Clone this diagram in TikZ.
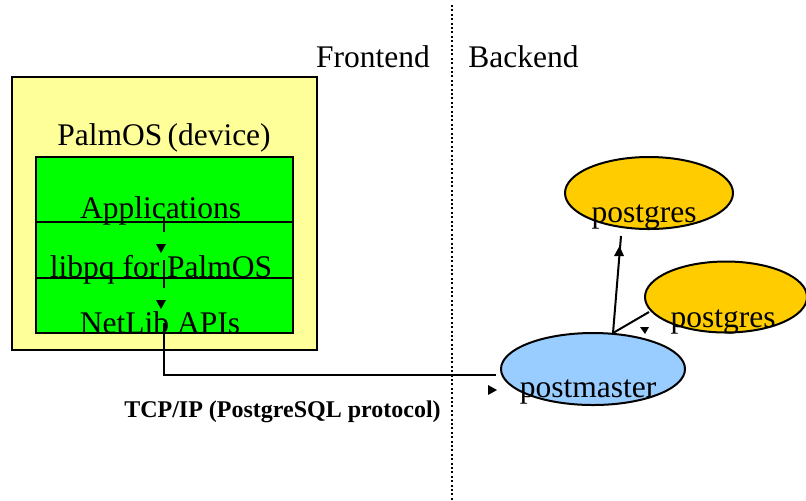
\documentclass[tikz,border=0pt]{standalone}
\usepackage{fontspec}
\setmainfont{Liberation Serif}
\usetikzlibrary{shapes.geometric}
\definecolor{paleyellow}{HTML}{FFFF99}
\definecolor{brightgreen}{HTML}{00FF00}
\definecolor{gold}{HTML}{FFCC00}
\definecolor{skyblue}{HTML}{99CCFF}
\begin{document}
\begin{tikzpicture}[x=0.5pt,y=-0.5pt,
  lbl/.style={anchor=base,inner sep=0pt,font=\fontsize{15.75}{18}\selectfont},
  boxed/.style={draw=black,line width=1pt},
  conn/.style={draw=black,line width=1pt},
  tip/.style={fill=black,draw=none},
  oval/.style={ellipse,draw=black,line width=1pt,inner sep=0pt}]
\useasboundingbox (0,0) rectangle (806,500);
% divider
\draw[line width=1pt,dash pattern=on 1pt off 1.2pt] (452,5) -- (452,500);
\node[lbl] (fe) at (373,67) {Frontend};
\node[lbl] (be) at (523.5,67) {Backend};
% device box
\path[boxed,fill=paleyellow] (12,77) rectangle (317,350);
\node[lbl] (palm) at (164,145) {PalmOS\,(device)};
\path[boxed,fill=brightgreen] (36,157) rectangle (293,333);
\draw[line width=1pt] (36,222) -- (293,222);
\draw[line width=1pt] (36,278) -- (293,278);
\node[lbl] (app) at (160.5,218) {Applications};
\node[lbl] (lib) at (161,277) {libpq for PalmOS};
\node[lbl] (net) at (160,333) {NetLib APIs};
% ellipses
\node[oval,fill=skyblue,minimum width=92pt,minimum height=36pt] (pm) at (593,369) {};
\node[oval,fill=gold,minimum width=84pt,minimum height=36pt] (pg1) at (649,193) {};
\node[oval,fill=gold,minimum width=81pt,minimum height=35.5pt] (pg2) at (726,297) {};
\node[lbl] at (588,397) {postmaster};
\node[lbl] at (644,222) {postgres};
\node[lbl] at (723,327) {postgres};
% vertical connectors inside device
\coordinate (a1) at (164,217);
\coordinate (a2) at (164,232);
\coordinate (b1) at (164,260);
\coordinate (b2) at (164,288);
\coordinate (c1) at (164,323);
\coordinate (c2) at (164,375);
\coordinate (c3) at (496,375);
\draw[conn] (a1) -- (a2);
\draw[conn] (b1) -- (b2);
\draw[conn] (c1) -- (c2) -- (c3);
\fill[tip] (156,244) -- (166,244) -- (161,253) -- cycle;
\fill[tip] (156,300) -- (166,300) -- (161,309) -- cycle;
\fill[tip] (488,385) -- (488,395) -- (497,390) -- cycle;
% backend connectors
\coordinate (pmtop) at (613,333);
\coordinate (pg1b) at (621,236);
\coordinate (pg2b) at (649,312);
\draw[conn] (pmtop) -- (pg1b);
\draw[conn] (pmtop) -- (pg2b);
\fill[tip] (614,256) -- (624,256) -- (619.5,246) -- cycle;
\fill[tip] (640,327) -- (649,327) -- (645,334) -- cycle;
\node[anchor=base,inner sep=0pt,font=\fontsize{12}{14}\selectfont\bfseries] (tcp) at (282.5,417) {TCP/IP (PostgreSQL protocol)};
\end{tikzpicture}
\end{document}
